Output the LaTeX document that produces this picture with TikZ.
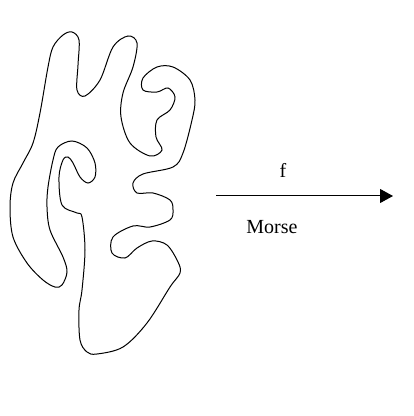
\documentclass[tikz,border=0pt]{standalone}
\usepackage{fontspec}
\setmainfont{Liberation Serif}
\usetikzlibrary{arrows.meta}
\begin{document}
\begin{tikzpicture}[x=0.5pt,y=-0.5pt,
  blob/.style={line width=0.5pt, black},
  maparrow/.style={line width=0.5pt, -{Triangle[length=6.5pt,width=7pt]}},
  lbl/.style={font=\fontsize{10}{12}\selectfont, inner sep=0pt}]
\useasboundingbox (0,0) rectangle (413,416);
\draw[blob] plot[smooth cycle, tension=0.55] coordinates {
 (72,32) (79,40) (78,65) (77,90) (85,96) (100,80) (113,47) (128,36) (137,43)
 (133,67) (123,93) (121,117) (130,143) (150,156) (162,150) (156,137) (157,120)
 (170,110) (175,97) (168,88) (157,92) (143,90) (143,78) (157,67) (173,67)
 (190,80) (195,100) (192,120) (183,153) (173,167) (143,174) (133,183)
 (137,193) (153,193) (170,200) (173,210) (170,220) (150,227) (133,226)
 (113,237) (112,253) (125,258) (137,248) (152,241) (167,245) (178,262)
 (180,273) (170,287) (147,323) (123,347) (97,354) (87,352) (80,340)
 (79,310) (82,290) (85,250) (82,217) (77,213) (62,205) (59,177) (63,160)
 (68,157) (73,163) (80,177) (88,183) (95,177) (95,163) (87,148) (72,141)
 (58,147) (53,160) (48,187) (47,207) (50,230) (63,257) (67,272) (62,285)
 (55,287) (43,280) (27,263) (13,237) (10,207) (13,183) (23,163) (33,143)
 (40,113) (48,67) (53,47) (63,35)};
\coordinate (a) at (216,196);
\coordinate (b) at (393,196);
\draw[maparrow] (a) -- (b);
\node[lbl, anchor=base] (f) at (283,178) {f};
\node[lbl, anchor=base] (morse) at (272,234) {Morse};
\end{tikzpicture}
\end{document}
